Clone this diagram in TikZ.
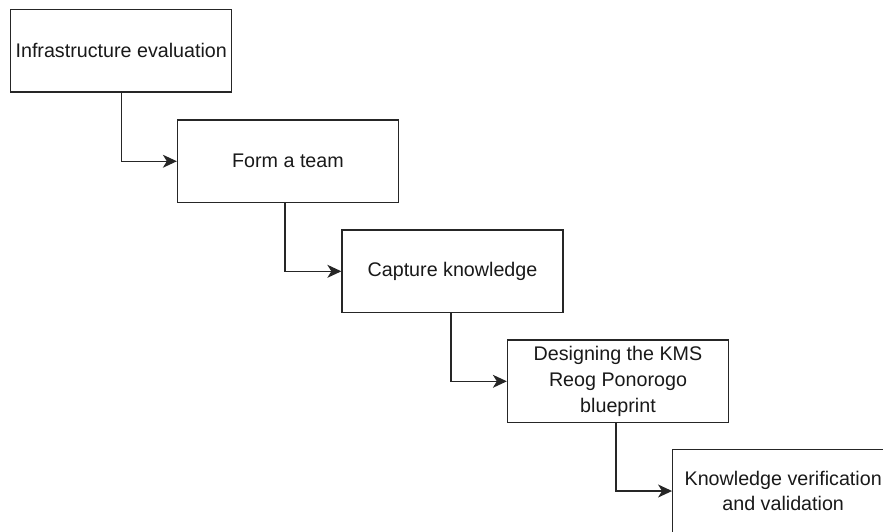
\documentclass[tikz,border=0pt]{standalone}
\usepackage{fontspec}
\setmainfont{Liberation Sans}
\usetikzlibrary{arrows.meta}
\begin{document}
\begin{tikzpicture}[x=1pt,y=-1pt,
  stepbox/.style={draw=black!85, line width=1.3pt, minimum width=221pt, minimum height=82.5pt, inner sep=0pt, align=center, text=black!90, font=\fontsize{19.7}{25.8}\selectfont},
  flow/.style={draw=black!85, line width=1.3pt, -{Stealth[length=14pt,width=13pt,inset=4pt]}}]
\useasboundingbox (0,0) rectangle (883,531);
\clip (0,0) rectangle (883,531);
\node[stepbox] (b1) at (121.25,50.75) {Infrastructure evaluation};
\node[stepbox] (b2) at (288,161.25) {Form a team};
\node[stepbox] (b3) at (452.5,271.3) {Capture knowledge};
\node[stepbox] (b4) at (618,381.3) {Designing the KMS\\Reog Ponorogo\\blueprint};
\node[stepbox] (b5) at (783.2,491) {\rule{0pt}{6pt}Knowledge verification\\and validation};
\draw[flow] (b1.south) |- (b2.west);
\draw[flow] ([xshift=-3pt]b2.south) |- (b3.west);
\draw[flow] ([xshift=-1.5pt]b3.south) |- (b4.west);
\draw[flow] ([xshift=-2pt]b4.south) |- (b5.west);
\end{tikzpicture}
\end{document}
